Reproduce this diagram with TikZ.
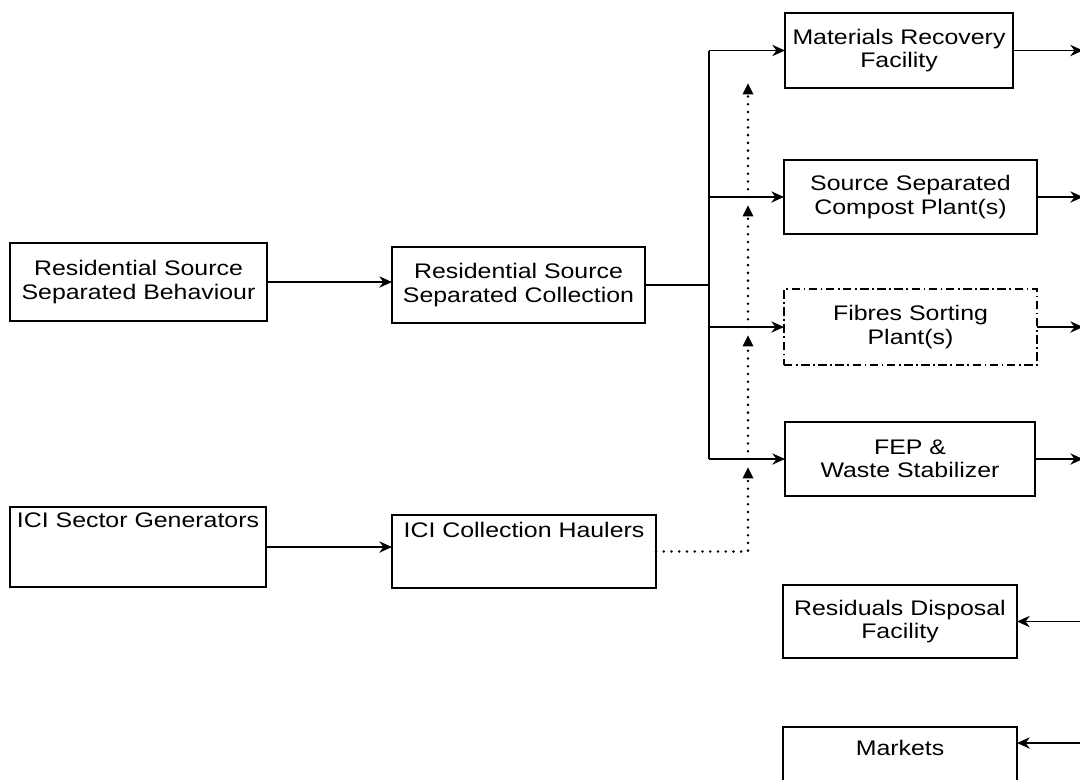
\documentclass[tikz,border=0pt]{standalone}
\usepackage{fontspec}
\setmainfont{Liberation Sans}[FakeStretch=1.18]
\usetikzlibrary{arrows.meta,positioning,calc}

\begin{document}
\begin{tikzpicture}[
    x=0.025cm, y=-0.025cm,
    unit/.style={draw, line width=1.4pt, inner sep=0pt, outer sep=0pt, align=center, font=\fontsize{15}{16.5}\selectfont},
    arr/.style={-{Stealth[length=9pt,width=8pt]}, line width=1.4pt},
    dotarr/.style={-{Triangle[length=8pt,width=7pt]}, line width=2pt, dash pattern=on 0pt off 5.5pt, line cap=round}
]
\useasboundingbox (0,0) rectangle (1080,779);
\clip (0,0) rectangle (1080,779);

\node[unit, minimum width=6.425cm, minimum height=1.95cm] (beh) at (138.5,282) {Residential Source\\Separated Behaviour};
\node[unit, minimum width=6.325cm, minimum height=1.9cm] (coll) at (518.5,285) {Residential Source\\Separated Collection};
\node[unit, anchor=north west, minimum width=6.4cm, text height=0.5cm, text depth=1.5cm] (gen) at (10,507) {ICI Sector Generators};
\node[unit, anchor=north west, minimum width=6.6cm, text height=0.55cm, text depth=1.275cm] (haul) at (392,515) {ICI Collection Haulers};

\node[unit, minimum width=5.7cm, minimum height=1.875cm] (mrf) at (899,50.5) {Materials Recovery\\Facility};
\node[unit, minimum width=6.325cm, minimum height=1.85cm] (comp) at (910.5,197) {Source Separated\\Compost Plant(s)};
\node[unit, minimum width=6.325cm, minimum height=1.9cm, dash pattern=on 6pt off 2.5pt on 1.2pt off 2.5pt] (fib) at (910.5,327) {Fibres Sorting\\Plant(s)};
\node[unit, minimum width=6.25cm, minimum height=1.85cm] (fep) at (910,459) {FEP \&\\Waste Stabilizer};
\node[unit, minimum width=5.85cm, minimum height=1.825cm] (res) at (900,621.5) {Residuals Disposal\\Facility};
\node[unit, anchor=north west, minimum width=5.85cm, text height=0.7cm, text depth=1.5cm] (mkt) at (783,727) {Markets};

\coordinate (trunk) at (709,286);
\coordinate (edge) at (1083,0);
\coordinate (mktin) at (1085,743);
\coordinate (d4) at (748,467);
\coordinate (d3) at (748,335);
\coordinate (d2) at (748,205);
\coordinate (d1) at (748,83);

\draw[arr] (beh.east) -- (beh.east -| coll.west);
\draw[arr] (gen.east) -- (gen.east -| haul.west);
\draw[line width=1.4pt] (coll.east) -- (coll.east -| trunk);
\draw[line width=1.4pt] (trunk |- mrf.west) -- (trunk |- fep.west);
\foreach \b in {mrf,comp,fib,fep} {
    \draw[arr] (trunk |- \b.west) -- (\b.west);
    \draw[arr] (\b.east) -- (\b.east -| edge);
}
\draw[arr] (res.east -| edge) -- (res.east);
\draw[arr] (mktin) -- (mktin -| mkt.east);

\draw[dotarr] (haul.east) -| (d4);
\draw[dotarr] (d4 |- fep.west) -- (d3);
\draw[dotarr] (d3 |- fib.west) -- (d2);
\draw[dotarr] (d2 |- comp.west) -- (d1);
\end{tikzpicture}
\end{document}
